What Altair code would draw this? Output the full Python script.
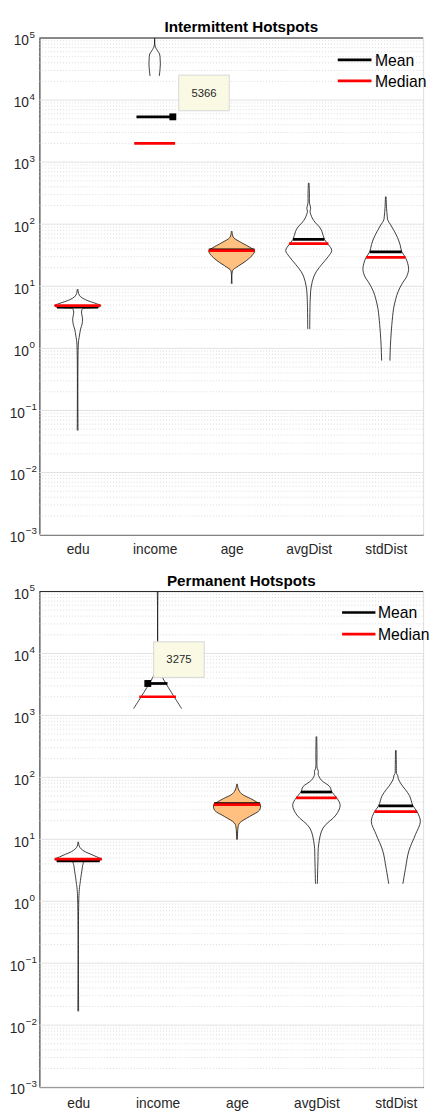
import altair as alt
import pandas as pd

CATS = ["edu", "income", "age", "avgDist", "stdDist"]
FONT = "Liberation Sans, Arial, sans-serif"
INK = "#262626"
EXPS = [-3, -2, -1, 0, 1, 2, 3, 4, 5]

# ---------------- Intermittent Hotspots (top) ----------------
TOP_TITLE = "Intermittent Hotspots"
TOP_VAL = [
    [9.0, 7.66, 6.79, 6.08, 5.66, 5.26, 4.89, 4.59, 4.47, 4.34, 3.69, 3.04, 2.44, 2.04, 1.58, 1.22, 0.0475],
    [1.3e5, 74600, 62000, 55200, 46000, 38300, 30000, 24400],
    [77.4, 68, 60.7, 50.5, 41.1, 37.3, 33.0, 25.9, 20.3, 18.0, 11.0],
    [463, 313, 218, 181, 162, 126, 105, 90, 76, 57, 47, 37.7, 30.3, 22.7, 17.5, 14.1, 9.78, 6.09, 2.04],
    [278, 181, 135, 117, 97.5, 78.3, 60.7, 47, 36, 29.2, 23.5, 18.9, 14.6, 10.9, 8.15, 6.09, 4.39, 3.28, 1.76, 1.10, 0.634],
]
TOP_HW = [
    [0.004, 0.013, 0.038, 0.102, 0.166, 0.242, 0.299, 0.268, 0.153, 0.064, 0.051, 0.064, 0.057, 0.038, 0.023, 0.010, 0.005],
    [0.006, 0.006, 0.038, 0.064, 0.071, 0.074, 0.068, 0.060],
    [0.004, 0.010, 0.025, 0.127, 0.255, 0.297, 0.280, 0.191, 0.064, 0.013, 0.005],
    [0.004, 0.009, 0.010, 0.025, 0.017, 0.045, 0.089, 0.140, 0.172, 0.204, 0.255, 0.299, 0.255, 0.172, 0.102, 0.064, 0.032, 0.019, 0.013],
    [0.004, 0.010, 0.019, 0.025, 0.064, 0.108, 0.153, 0.185, 0.208, 0.255, 0.284, 0.297, 0.274, 0.210, 0.159, 0.127, 0.102, 0.089, 0.070, 0.060, 0.054],
]
TOP_MEAN = [4.6, 5366, 38.7, 57.0, 36.0]
TOP_MEAN_HW = [0.268, 0.236, 0.297, 0.204, 0.208]
TOP_MED = [4.9, 2000, 37.4, 48.8, 29.2]
TOP_MED_HW = [0.299, 0.265, 0.297, 0.255, 0.255]
TOP_TIP = {"cat": 2, "side": 1, "label": "5366"}

# ---------------- Permanent Hotspots (bottom) ----------------
BOT_TITLE = "Permanent Hotspots"
BOT_VAL = [
    [9.1, 7.78, 7.0, 6.3, 5.73, 5.2, 4.77, 4.55, 4.34, 3.8, 3.31, 2.17, 1.33, 0.0167],
    [1.3e5, 6500, 4900, 4075, 1285],
    [78.3, 65.3, 54.4, 45.3, 40, 36.4, 29.6, 23.2, 18.2, 15.2, 9.9],
    [456, 250, 140, 125, 112, 90, 70.6, 58, 46.5, 35.5, 24.7, 15.2, 8.24, 4.5, 1.91],
    [274, 150, 115, 106, 95, 78.3, 51, 34.7, 27.9, 19.4, 11.9, 6.48, 3.52, 1.91],
]
BOT_HW = [
    [0.004, 0.012, 0.037, 0.087, 0.161, 0.235, 0.297, 0.173, 0.074, 0.056, 0.049, 0.028, 0.010, 0.005],
    [0.006, 0.010, 0.037, 0.062, 0.303],
    [0.004, 0.016, 0.056, 0.173, 0.247, 0.293, 0.284, 0.155, 0.031, 0.012, 0.005],
    [0.004, 0.007, 0.010, 0.025, 0.022, 0.062, 0.169, 0.195, 0.256, 0.299, 0.247, 0.083, 0.028, 0.019, 0.012],
    [0.004, 0.007, 0.010, 0.025, 0.031, 0.066, 0.171, 0.216, 0.268, 0.309, 0.247, 0.164, 0.124, 0.089],
]
BOT_MEAN = [4.5, 3275, 37.8, 58.0, 34.7]
BOT_MEAN_HW = [0.272, 0.124, 0.290, 0.195, 0.216]
BOT_MED = [4.77, 2000, 36.4, 46.5, 27.9]
BOT_MED_HW = [0.297, 0.231, 0.293, 0.256, 0.268]
BOT_TIP = {"cat": 2, "side": -1, "label": "3275"}

LEGEND = ["Mean", "Median"]
LEGEND_COL = ["#000000", "#FF0000"]
FILL_CAT = "age"
FILL_COL = "#FFC080"

MINOR = [m * 10.0 ** k for k in range(-3, 5) for m in range(2, 10)]
MAJOR = [10.0 ** e for e in EXPS]


def panel(title, vals, hws, means, mean_hw, meds, med_hw, tip, xdom, leg, label_pad, W, H):
    xs = alt.Scale(domain=xdom, nice=False, zero=False)
    ys = alt.Scale(type="log", domain=[1e-3, 1e5], nice=False)
    xax = alt.Axis(values=[1, 2, 3, 4, 5],
                   labelExpr="['edu','income','age','avgDist','stdDist'][datum.value-1]",
                   ticks=False, grid=False, domainColor=INK, domainWidth=1,
                   labelFont=FONT, labelFontSize=14, labelColor=INK,
                   labelPadding=label_pad, title=None)
    yax = alt.Axis(labels=False, ticks=False, grid=False, domainColor=INK,
                   domainWidth=1, title=None)

    def X(f):
        return alt.X(f, type="quantitative", scale=xs, axis=xax)

    def Y(f):
        return alt.Y(f, type="quantitative", scale=ys, axis=yax)

    rows = []
    for k, (vv, ww) in enumerate(zip(vals, hws), start=1):
        for side, sgn in (("L", -1), ("R", 1)):
            for i, (v, w) in enumerate(zip(vv, ww)):
                rows.append({"g": f"{k}{side}", "i": i, "v": v, "x": k + sgn * w})
    out = pd.DataFrame(rows)
    fk = CATS.index(FILL_CAT) + 1
    fill = pd.DataFrame({"v": vals[fk - 1],
                         "xl": [fk - w for w in hws[fk - 1]],
                         "xr": [fk + w for w in hws[fk - 1]]})
    ks = list(range(1, 6))
    mean_df = pd.DataFrame({"v": means, "x": [k - w for k, w in zip(ks, mean_hw)],
                            "x2": [k + w for k, w in zip(ks, mean_hw)]})
    med_df = pd.DataFrame({"v": meds, "x": [k - w for k, w in zip(ks, med_hw)],
                           "x2": [k + w for k, w in zip(ks, med_hw)]})
    c = tip["cat"]
    tipdf = pd.DataFrame({"x": [c + tip["side"] * mean_hw[c - 1]],
                          "v": [means[c - 1]], "lab": [tip["label"]]})
    lab = pd.DataFrame({"v": MAJOR, "e": EXPS, "base": ["10"] * len(EXPS),
                        "ex": [str(e).replace("-", "\u2212") for e in EXPS]})
    pos = lab[lab.e >= 0]
    neg = lab[lab.e < 0]
    one = pd.DataFrame({"a": [0]})

    layers = [
        alt.Chart(pd.DataFrame({"v": MINOR})).mark_rule(color="#d2d2d2", strokeDash=[1, 2], strokeWidth=0.8).encode(y=Y("v")),
        alt.Chart(pd.DataFrame({"v": MAJOR})).mark_rule(color="#e0e0e0", strokeWidth=1).encode(y=Y("v")),
        alt.Chart(fill).mark_area(orient="horizontal", color=FILL_COL, opacity=1, interpolate="catmull-rom").encode(y=Y("v"), x=X("xl"), x2="xr"),
        alt.Chart(out).mark_line(color="#1a1a1a", strokeWidth=0.85, interpolate="catmull-rom", clip=True).encode(
            x=X("x"), y=Y("v"), detail="g:N", order="i:Q"),
        alt.Chart(mean_df).mark_rule(color=LEGEND_COL[0], strokeWidth=2.8).encode(x=X("x"), x2="x2", y=Y("v")),
        alt.Chart(med_df).mark_rule(color=LEGEND_COL[1], strokeWidth=2.8).encode(x=X("x"), x2="x2", y=Y("v")),
        alt.Chart(tipdf).mark_square(size=49, color="#000000", filled=True, opacity=1).encode(x=X("x"), y=Y("v")),
        alt.Chart(tipdf).mark_rect(fill="#FAFAE4", stroke="#D6D6D6", strokeWidth=1,
                                   xOffset=6, x2Offset=57.5, yOffset=-42.5, y2Offset=-6.2).encode(
            x=X("x"), x2="x", y=Y("v"), y2="v"),
        alt.Chart(tipdf).mark_text(dx=31.7, dy=-23.5, fontSize=11.5, font=FONT, color=INK,
                                   align="center", baseline="middle").encode(x=X("x"), y=Y("v"), text="lab:N"),
        alt.Chart(pos).mark_text(align="right", baseline="middle", dy=3.5, fontSize=14, font=FONT, color=INK).encode(
            y=Y("v"), x=alt.value(-10.7), text="base:N"),
        alt.Chart(pos).mark_text(align="left", baseline="middle", dy=-3.5, fontSize=10, font=FONT, color=INK).encode(
            y=Y("v"), x=alt.value(-10), text="ex:N"),
        alt.Chart(neg).mark_text(align="right", baseline="middle", dy=3.5, fontSize=14, font=FONT, color=INK).encode(
            y=Y("v"), x=alt.value(-14.7), text="base:N"),
        alt.Chart(neg).mark_text(align="left", baseline="middle", dy=-3.5, fontSize=10, font=FONT, color=INK).encode(
            y=Y("v"), x=alt.value(-14), text="ex:N"),
        alt.Chart(one).mark_rule(color=INK, strokeWidth=1).encode(x=alt.value(0), x2=alt.value(W), y=alt.value(0)),
        alt.Chart(one).mark_text(align="center", baseline="alphabetic", fontSize=15.5, fontWeight="bold",
                                 font=FONT, color="#000000", text=title).encode(
            x=alt.value(205.7), y=alt.value(-6)),
    ]
    lx1, lx2, tx, ly = leg
    for j in range(2):
        layers.append(alt.Chart(one).mark_rule(color=LEGEND_COL[j], strokeWidth=2.8).encode(
            x=alt.value(lx1), x2=alt.value(lx2), y=alt.value(ly[j])))
        layers.append(alt.Chart(one).mark_text(align="left", baseline="middle", fontSize=16, font=FONT,
                                               color="#000000", text=LEGEND[j]).encode(
            x=alt.value(tx), y=alt.value(ly[j] + 0.9)))

    return alt.layer(*layers).properties(width=W, height=H)


top = panel(TOP_TITLE, TOP_VAL, TOP_HW, TOP_MEAN, TOP_MEAN_HW, TOP_MED, TOP_MED_HW, TOP_TIP,
            [0.504, 5.485], (304.0, 338.4, 342.0, [22.3, 43.7]), 8, 391, 506)
bot = panel(BOT_TITLE, BOT_VAL, BOT_HW, BOT_MEAN, BOT_MEAN_HW, BOT_MED, BOT_MED_HW, BOT_TIP,
            [0.511, 5.344], (308.4, 342.4, 345.0, [21.4, 43.4]), 10, 391, 505)

chart = alt.vconcat(top, bot, spacing=16).properties(
    padding={"left": 1, "top": 1, "right": 0, "bottom": 0}
).configure_view(stroke=None).configure(font=FONT)

chart.save("out.html", embed_options={"renderer": "svg", "actions": False})
